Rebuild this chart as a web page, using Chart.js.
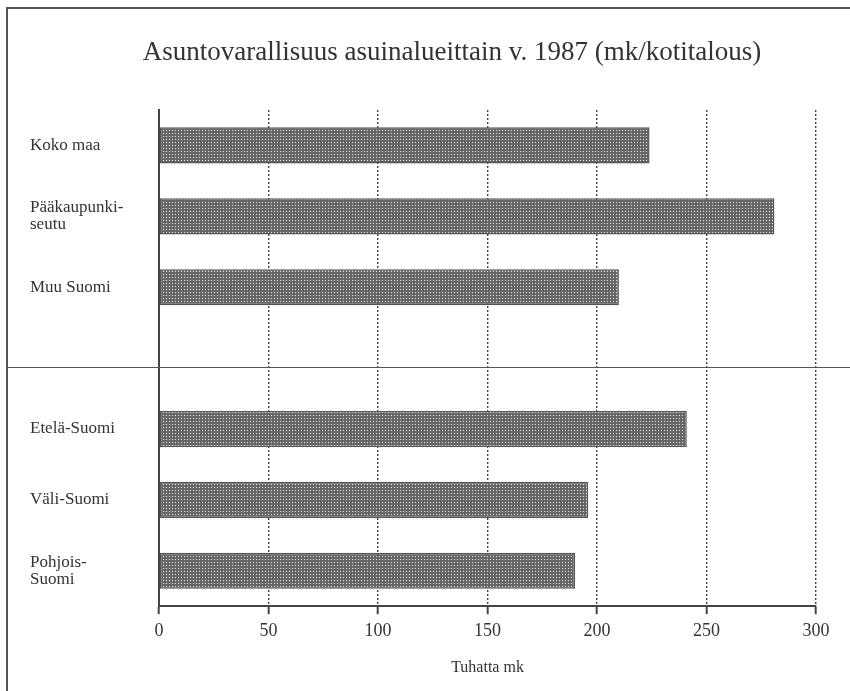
<!DOCTYPE html>
<html>
<head>
<meta charset="utf-8">
<script src="https://cdn.jsdelivr.net/npm/chart.js@4"></script>
<style>
  html, body { margin: 0; padding: 0; background: #fff; }
  #wrap { width: 850px; height: 691px; }
</style>
</head>
<body>
<div id="wrap"><canvas id="chartWealth"></canvas></div>
<script>
// Data (thousand mk per household)
const regionLabels = ["Koko maa", ["Pääkaupunki-", "seutu"], "Muu Suomi", "", "Etelä-Suomi", "Väli-Suomi", ["Pohjois-", "Suomi"]];
const wealthValues = [224, 281, 210, null, 241, 196, 190];
const xTicks = [0, 50, 100, 150, 200, 250, 300];
const chartTitle = "Asuntovarallisuus asuinalueittain v. 1987 (mk/kotitalous)";
const xAxisTitle = "Tuhatta mk";

const serif = "'Liberation Serif', 'DejaVu Serif', serif";
const ink = "#444";

// Dotted raster like the printed bars
const makePattern = () => {
    const tile = document.createElement("canvas");
    tile.width = 3;
    tile.height = 3;
    const c = tile.getContext("2d");
    c.fillStyle = "#666";
    c.fillRect(0, 0, 3, 3);
    c.fillStyle = "#e8e8e8";
    c.fillRect(1, 1, 1, 1);
    return c.createPattern(tile, "repeat");
};

// Frame, separator line and heading
const framePlugin = {
    id: "frame",
    afterDraw(chart) {
        const ctx = chart.ctx;
        const y = chart.scales.y;
        ctx.save();
        ctx.strokeStyle = "#555";
        ctx.lineWidth = 2;
        ctx.beginPath();
        ctx.moveTo(7, chart.height);
        ctx.lineTo(7, 8);
        ctx.lineTo(chart.width, 8);
        ctx.stroke();

        // line between the two groups of regions
        const sepY = Math.round(y.getPixelForValue(3.12)) + 0.5;
        ctx.lineWidth = 1.2;
        ctx.beginPath();
        ctx.moveTo(7, sepY);
        ctx.lineTo(chart.width, sepY);
        ctx.stroke();

        ctx.fillStyle = "#333";
        ctx.font = "27px " + serif;
        ctx.textAlign = "center";
        ctx.textBaseline = "alphabetic";
        ctx.fillText(chartTitle, 452, 60);
        ctx.restore();
    }
};

const chartWealth = new Chart(document.getElementById("chartWealth"), {
    type: "bar",
    data: {
        labels: regionLabels,
        datasets: [{
            data: wealthValues,
            backgroundColor: makePattern(),
            borderColor: "#555",
            borderWidth: 1.5,
            borderSkipped: false,
            barPercentage: 0.6,
            categoryPercentage: 0.85,
        }]
    },
    options: {
        indexAxis: "y",
        responsive: true,
        maintainAspectRatio: false,
        animation: false,
        layout: { padding: { left: 30, right: 0, top: 110, bottom: 14 } },
        plugins: {
            legend: { display: false },
            tooltip: { enabled: false },
            title: { display: false },
        },
        scales: {
            x: {
                min: 0,
                max: 300,
                afterBuildTicks: scale => {
                    scale.ticks = xTicks.map(v => ({ value: v }));
                },
                grid: {
                    color: ink,
                    lineWidth: 1.4,
                    tickBorderDash: [],
                    tickLength: 8,
                    tickWidth: 2,
                    tickColor: ink,
                },
                border: { display: true, color: ink, width: 2, dash: [2, 2] },
                ticks: {
                    color: "#333",
                    padding: 6,
                    font: { family: serif, size: 18 },
                },
                title: {
                    display: true,
                    text: xAxisTitle,
                    color: "#333",
                    font: { family: serif, size: 16 },
                    padding: { top: 10, bottom: 0 },
                },
            },
            y: {
                afterFit: scale => { scale.width = 129; },
                grid: { display: false, drawTicks: false },
                border: { display: true, color: ink, width: 2 },
                ticks: {
                    crossAlign: "far",
                    color: "#333",
                    font: { family: serif, size: 17, lineHeight: 1.0 },
                },
            },
            yRight: {
                type: "category",
                axis: "y",
                position: "right",
                labels: regionLabels.map(() => ""),
                afterFit: scale => { scale.width = 34; },
                grid: { display: false, drawTicks: false },
                border: { display: false },
                ticks: { display: false },
            },
        }
    },
    plugins: [framePlugin]
});
</script>
</body>
</html>
